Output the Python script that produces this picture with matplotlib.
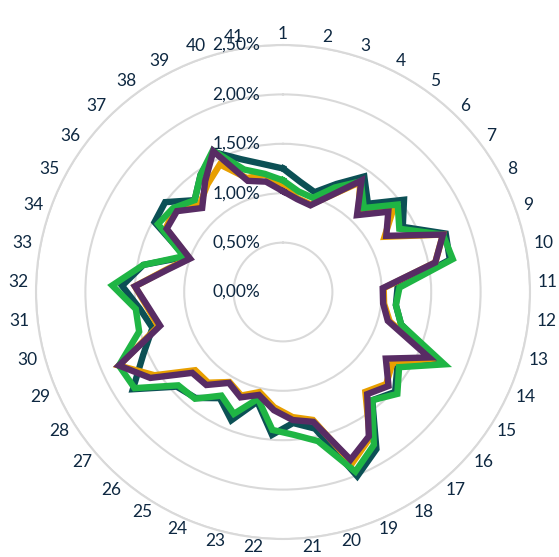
import numpy as np
import matplotlib
matplotlib.use("Agg")
import matplotlib.pyplot as plt
from matplotlib.transforms import offset_copy

# category labels 1..41 around the radar
categories = [str(i) for i in range(1, 42)]

# values in percent
teal = [1.25, 1.13, 1.06, 1.22, 1.43, 1.24, 1.54, 1.38, 1.75, 1.72,
        1.16, 1.15, 1.24, 1.73, 1.38, 1.52, 1.42, 1.85, 2.01, 1.42,
        1.33, 1.45, 1.14, 1.40, 1.25, 1.39, 1.44, 1.81, 1.55, 1.37,
        1.46, 1.63, 1.44, 1.05, 1.48, 1.50, 1.29, 1.45, 1.58, 1.41,
        1.31]
orange = [1.06, 0.96, 0.93, 1.09, 1.36, 1.10, 1.41, 1.17, 1.72, 1.57,
          1.02, 1.03, 1.12, 1.65, 1.32, 1.40, 1.31, 1.72, 1.87, 1.33,
          1.27, 1.17, 1.04, 1.13, 1.06, 1.19, 1.19, 1.55, 1.82, 1.31,
          1.38, 1.50, 1.20, 1.01, 1.35, 1.38, 1.22, 1.33, 1.44, 1.21,
          1.20]
green = [1.13, 1.03, 1.00, 1.18, 1.37, 1.18, 1.46, 1.34, 1.72, 1.75,
         1.18, 1.15, 1.24, 1.79, 1.40, 1.55, 1.42, 1.80, 1.96, 1.55,
         1.45, 1.40, 1.11, 1.33, 1.22, 1.40, 1.42, 1.79, 1.82, 1.51,
         1.50, 1.73, 1.44, 1.07, 1.44, 1.40, 1.29, 1.45, 1.60, 1.30,
         1.21]
purple = [1.02, 0.95, 0.92, 1.09, 1.38, 1.08, 1.34, 1.19, 1.72, 1.57,
          1.01, 1.02, 1.10, 1.62, 1.24, 1.43, 1.34, 1.70, 1.83, 1.35,
          1.30, 1.20, 1.07, 1.15, 1.07, 1.22, 1.23, 1.60, 1.82, 1.29,
          1.37, 1.50, 1.19, 1.00, 1.34, 1.35, 1.18, 1.37, 1.59, 1.18,
          1.13]

r_ticks = [0.0, 0.5, 1.0, 1.5, 2.0, 2.5]
r_labels = ["0,00%", "0,50%", "1,00%", "1,50%", "2,00%", "2,50%"]

series = [(teal, "#0c5055"), (orange, "#e89f00"), (green, "#1fb544"), (purple, "#582c64")]
text_color = "#0e2841"
grid_color = "#d9d9d9"

plt.rcParams['font.family'] = ['Lato', 'DejaVu Sans']

fig = plt.figure(figsize=(5.59, 5.57), dpi=100)
ax = fig.add_axes([36 / 559, 18 / 557, 494 / 559, 494 / 557], projection="polar")
ax.set_theta_zero_location("N")
ax.set_theta_direction(-1)

n = len(categories)
angles = np.linspace(0, 2 * np.pi, n, endpoint=False)
closed = np.append(angles, angles[0])

for vals, col in series:
    v = np.append(vals, vals[0])
    ax.plot(closed, v, color=col, lw=4.6, solid_joinstyle="miter")

ax.set_ylim(0, 2.5)
ax.set_yticks(r_ticks[1:])
ax.set_yticklabels([])
ax.set_xticks([])
ax.yaxis.grid(True, color=grid_color, lw=1.5)
ax.spines["polar"].set_color(grid_color)
ax.spines["polar"].set_linewidth(1.5)

# value labels left of the vertical axis
tr = offset_copy(ax.transData, fig=fig, x=-23, y=0, units="dots")
for r, lab in zip(r_ticks, r_labels):
    ax.text(0, r, lab, transform=tr, ha="right", va="center",
            fontsize=12.5, color=text_color)

# category labels: text box pushed sideways by half its width
for a, lab in zip(angles, categories):
    half_w = 5.0 * len(lab)
    dx = half_w * np.sign(round(np.sin(a), 6))
    c = np.cos(a)
    dy = 3 * c if c > 0 else 1 * c
    t = offset_copy(ax.transData, fig=fig, x=dx, y=dy, units="dots")
    ax.text(a, 255 / 98.8, lab, transform=t, ha="center", va="center",
            fontsize=12.5, color=text_color, clip_on=False)

fig.savefig("out.png", dpi=100)
